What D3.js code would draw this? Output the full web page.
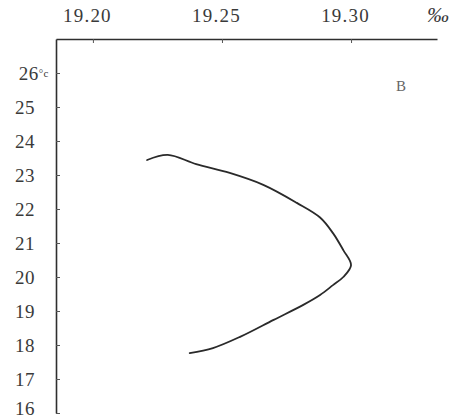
<!DOCTYPE html>
<html>
<head>
<meta charset="utf-8">
<script src="https://cdn.jsdelivr.net/npm/d3@7"></script>
<style>
  html, body { margin: 0; padding: 0; background: #fff; }
  svg { display: block; }
  svg text { font-family: 'Liberation Serif', 'DejaVu Serif', serif !important; }
</style>
</head>
<body>
<script>
// Salinity (‰) versus temperature (°C) profile, panel B
const salinity = [19.221, 19.229, 19.240, 19.253, 19.266, 19.279, 19.288, 19.293, 19.297, 19.3, 19.297, 19.293, 19.288, 19.2815, 19.270, 19.257, 19.2465, 19.2375];
const temperature = [23.44, 23.59, 23.32, 23.06, 22.71, 22.18, 21.75, 21.29, 20.79, 20.35, 20.0, 19.76, 19.47, 19.18, 18.74, 18.24, 17.91, 17.76];
const xTicks = [19.20, 19.25, 19.30];
const xTickLabels = ["19.20", "19.25", "19.30"];
const yTicks = [16, 17, 18, 19, 20, 21, 22, 23, 24, 25, 26];

const W = 459, H = 418;
const svg = d3.select("body").append("svg").attr("width", W).attr("height", H);

const x = d3.scaleLinear().domain([19.1857, 19.3333]).range([56, 437]);
const y = d3.scaleLinear().domain([16, 27]).range([413, 39]);

// top salinity axis
const xAxis = d3.axisTop(x)
  .tickValues(xTicks)
  .tickFormat((d, i) => xTickLabels[i])
  .tickSizeInner(-4)
  .tickSizeOuter(0)
  .tickPadding(17);
const gx = svg.append("g").attr("transform", `translate(0,${y(27)})`).call(xAxis);
gx.select(".domain").attr("stroke", "#2e2e2e").attr("stroke-width", 1.6);
gx.selectAll(".tick line").attr("stroke", "#555").attr("stroke-width", 1);
gx.selectAll(".tick text")
  .attr("font-size", 19)
  .attr("fill", "#3a3a3a")
  .attr("letter-spacing", 1.2)
  .attr("dx", -6);

// left temperature axis
const yAxis = d3.axisLeft(y)
  .tickValues(yTicks)
  .tickFormat(d3.format("d"))
  .tickSizeInner(-4)
  .tickSizeOuter(0)
  .tickPadding(21);
const gy = svg.append("g").attr("transform", `translate(${x(19.1857)},0)`).call(yAxis);
gy.select(".domain").attr("stroke", "#2e2e2e").attr("stroke-width", 1.6);
gy.selectAll(".tick line").attr("stroke", "#555").attr("stroke-width", 1);
gy.selectAll(".tick text").attr("font-size", 19).attr("fill", "#3a3a3a").attr("letter-spacing", 0.5);

// keep the lowest label inside the frame
gy.selectAll(".tick").filter(d => d === 16).select("text").attr("dy", "0.1em");

// unit on the 26 label
const t26 = gy.selectAll(".tick").filter(d => d === 26).select("text").attr("x", -7);
t26.append("tspan")
  .attr("font-size", 11)
  .attr("dy", "-0.2em")
  .text("°c");

// per-mille unit
svg.append("text")
  .attr("x", 427).attr("y", 22)
  .attr("font-style", "italic")
  .attr("font-size", 22)
  .attr("fill", "#3a3a3a")
  .text("‰");

// panel letter
svg.append("text")
  .attr("x", 396).attr("y", 91)
  .attr("font-size", 15)
  .attr("fill", "#666")
  .text("B");

// profile curve
const pts = salinity.map((s, i) => [s, temperature[i]]);
const line = d3.line()
  .x(d => x(d[0]))
  .y(d => y(d[1]))
  .curve(d3.curveCatmullRom.alpha(0.5));
svg.append("path")
  .datum(pts)
  .attr("d", line)
  .attr("fill", "none")
  .attr("stroke", "#2a2a2a")
  .attr("stroke-width", 1.8)
  .attr("stroke-linecap", "round");
</script>
</body>
</html>
